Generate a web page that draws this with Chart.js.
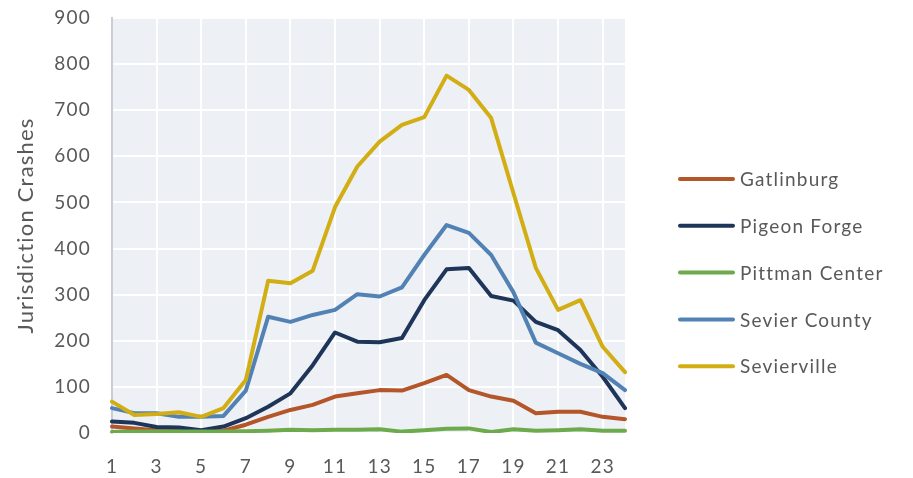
<!DOCTYPE html>
<html>
<head>
<meta charset="utf-8">
<title>Jurisdiction Crashes by Hour</title>
<script src="https://cdn.jsdelivr.net/npm/chart.js@4/dist/chart.umd.min.js"></script>
<style>
  html,body{margin:0;padding:0;background:#fff;}
  #crashChart{display:block;}
</style>
</head>
<body>
<canvas id="crashChart" width="913" height="478"></canvas>
<script>
// Hour of day
const hours = ['1','2','3','4','5','6','7','8','9','10','11','12','13','14','15','16','17','18','19','20','21','22','23','24'];

// Crashes per hour, by jurisdiction
const gatlinburg    = [14,10,6,5,3,5,18,35,50,61,79,86,93,92,108,126,93,79,70,43,46,46,35,30];
const pigeonForge   = [25,22,13,12,6,14,32,57,86,147,218,198,197,206,288,355,358,297,287,241,223,180,122,54];
const pittmanCenter = [2,3,3,3,3,3,4,5,7,6,7,7,8,3,6,9,10,2,8,5,6,8,5,5];
const sevierCounty  = [54,43,43,35,35,37,92,252,241,256,267,301,296,316,386,451,434,386,305,196,173,150,130,93];
const sevierville   = [68,39,41,45,35,54,115,330,325,352,490,578,632,668,685,775,744,683,520,358,267,288,187,132];

const seriesNames  = ['Gatlinburg','Pigeon Forge','Pittman Center','Sevier County','Sevierville'];
const seriesValues = [gatlinburg, pigeonForge, pittmanCenter, sevierCounty, sevierville];
const seriesColors = ['#b4552a','#1e3559','#6caa4c','#5282b4','#d2ae14'];

const textGrey = '#595959';
const fontFamily = 'Lato, "Open Sans", sans-serif';
Chart.defaults.font.family = fontFamily;
Chart.defaults.color = textGrey;

// slightly wider letter spacing on every text drawn on the canvas
const spacing = '1.2px';
const letterSpacing = {
  id:'letterSpacing',
  beforeUpdate(chart){ chart.ctx.letterSpacing = spacing; },
  beforeLayout(chart){ chart.ctx.letterSpacing = spacing; },
  beforeDraw(chart){ chart.ctx.letterSpacing = spacing; }
};

// grey-blue plot panel behind the grid
const plotPanel = {
  id:'plotPanel',
  beforeDraw(chart){
    const {ctx, chartArea:a} = chart;
    ctx.save();
    ctx.fillStyle = '#edf0f5';
    ctx.fillRect(a.left, a.top, a.right - a.left, a.bottom - a.top);
    ctx.restore();
  }
};

// legend stacked to the right of the plot
const sideLegend = {
  id:'sideLegend',
  afterDraw(chart){
    const ctx = chart.ctx;
    const top = 179, step = 46.8;
    chart.data.datasets.forEach((ds,i)=>{
      const y = top + i*step;
      ctx.save();
      ctx.letterSpacing = spacing;
      ctx.strokeStyle = ds.borderColor;
      ctx.lineWidth = 4;
      ctx.lineCap = 'round';
      ctx.beginPath(); ctx.moveTo(680,y); ctx.lineTo(733,y); ctx.stroke();
      ctx.fillStyle = textGrey;
      ctx.font = '19px ' + fontFamily;
      ctx.textBaseline = 'middle';
      ctx.textAlign = 'left';
      ctx.fillText(ds.label, 740, y + 1);
      ctx.restore();
    });
  }
};

const datasets = seriesNames.map((name,i)=>({
  label:name,
  data:seriesValues[i],
  borderColor:seriesColors[i],
  backgroundColor:seriesColors[i],
  borderWidth:4,
  borderJoinStyle:'round',
  borderCapStyle:'round',
  pointRadius:0,
  tension:0,
  fill:false,
  order:seriesNames.length - i
}));

new Chart(document.getElementById('crashChart'), {
  type:'line',
  data:{labels:hours, datasets},
  plugins:[letterSpacing, plotPanel, sideLegend],
  options:{
    responsive:false,
    animation:false,
    layout:{padding:{left:0, top:18, right:288, bottom:0}},
    plugins:{legend:{display:false}, tooltip:{enabled:false}},
    scales:{
      x:{
        offset:false,
        afterFit:(s)=>{ s.height = 45; },
        grid:{color:'#ffffff', lineWidth:2, drawTicks:false},
        border:{display:false},
        ticks:{
          autoSkip:false, maxRotation:0, padding:22,
          font:{size:19}, color:textGrey,
          callback:function(v,i){ return i%2===0 ? this.getLabelForValue(v) : null; }
        }
      },
      y:{
        min:0, max:900,
        afterFit:(s)=>{ s.width = 112; },
        // tick marks stay white, so they only push the labels away from the axis
        grid:{color:'#ffffff', lineWidth:2, drawTicks:true, tickLength:19, tickColor:'#ffffff'},
        border:{display:true, color:'#c9cdd5', width:2},
        ticks:{stepSize:100, padding:2, font:{size:19}, color:textGrey},
        title:{display:true, text:'Jurisdiction Crashes', font:{size:22}, color:textGrey, padding:{top:13, bottom:0}}
      }
    }
  }
});
</script>
</body>
</html>
